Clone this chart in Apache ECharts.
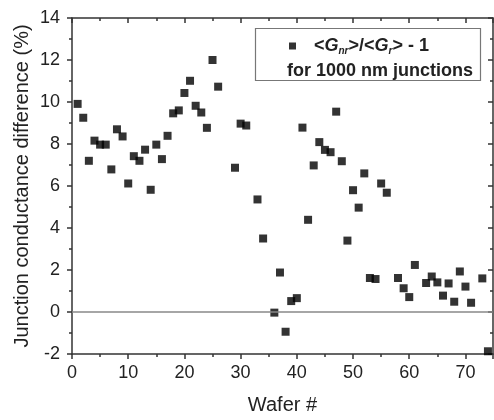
<!DOCTYPE html>
<html>
<head>
<meta charset="utf-8">
<script src="https://cdn.jsdelivr.net/npm/echarts@6/dist/echarts.min.js"></script>
<style>html,body{margin:0;padding:0;background:#fff}#c{width:494px;height:420px}</style>
</head>
<body>
<div id="c"></div>
<script>
const wafers = [1,2,3,4,5,6,7,8,9,10,11,12,13,14,15,16,17,18,19,20,21,22,23,24,25,26,29,30,31,33,34,36,37,38,39,40,41,42,43,44,45,46,47,48,49,50,51,52,53,54,55,56,58,59,60,61,63,64,65,66,67,68,69,70,71,73,74];
const diffs = [9.91,9.25,7.2,8.16,7.97,7.97,6.79,8.7,8.36,6.12,7.42,7.2,7.73,5.82,7.97,7.28,8.39,9.46,9.6,10.43,11.01,9.82,9.5,8.77,12.0,10.73,6.87,8.97,8.88,5.36,3.5,-0.03,1.88,-0.94,0.52,0.66,8.78,4.39,6.98,8.09,7.72,7.61,9.54,7.18,3.4,5.8,4.97,6.6,1.62,1.57,6.12,5.68,1.62,1.13,0.71,2.24,1.38,1.69,1.41,0.78,1.36,0.49,1.93,1.21,0.44,1.6,-1.87];
const xTicks = [0,10,20,30,40,50,60,70];
const yTicks = [-2,0,2,4,6,8,10,12,14];
const seriesName = '<Gnr>/<Gr> - 1';
const legendLine2 = 'for 1000 nm junctions';

const points = wafers.map((w, i) => [w, diffs[i]]);
const axisColor = '#333';
const font = 'Liberation Sans, Arial, sans-serif';
const xMax = 74.9;

const chart = echarts.init(document.getElementById('c'));
chart.setOption({
  animation: false,
  backgroundColor: '#fff',
  grid: { left: 72, top: 18, right: 1, bottom: 61, containLabel: false },
  xAxis: [{
    type: 'value', min: 0, max: xMax, interval: 10, position: 'bottom',
    name: 'Wafer #', nameLocation: 'middle', nameGap: 41, nameMoveOverlap: false,
    nameTextStyle: { fontSize: 20, color: '#222', fontFamily: font },
    axisLine: { show: true, onZero: false, lineStyle: { color: axisColor, width: 1.5 } },
    axisTick: { show: true, inside: false, length: 5, lineStyle: { color: axisColor, width: 1.5 } },
    minorTick: { show: true, splitNumber: 2, length: 3, lineStyle: { color: axisColor, width: 1.5 } },
    axisLabel: { fontSize: 18, color: '#222', fontFamily: font, margin: 10, showMaxLabel: false,
      formatter: v => xTicks.includes(v) ? String(v) : '' },
    splitLine: { show: false }
  }, {
    type: 'value', min: 0, max: xMax, interval: 10, position: 'top',
    axisLine: { show: true, onZero: false, lineStyle: { color: axisColor, width: 1.5 } },
    axisTick: { show: true, inside: true, length: 5, lineStyle: { color: axisColor, width: 1.5 } },
    minorTick: { show: true, splitNumber: 2, length: 3, lineStyle: { color: axisColor, width: 1.5 } },
    axisLabel: { show: false }, splitLine: { show: false }
  }],
  yAxis: [{
    type: 'value', min: -2, max: 14, interval: 2, position: 'left',
    name: 'Junction conductance difference (%)', nameLocation: 'middle', nameGap: 40, nameMoveOverlap: false,
    nameTextStyle: { fontSize: 20, color: '#222', fontFamily: font },
    axisLine: { show: true, onZero: false, lineStyle: { color: axisColor, width: 1.5 } },
    axisTick: { show: true, inside: false, length: 5, lineStyle: { color: axisColor, width: 1.5 } },
    minorTick: { show: true, splitNumber: 2, length: 3, lineStyle: { color: axisColor, width: 1.5 } },
    axisLabel: { fontSize: 18, color: '#222', fontFamily: font, margin: 12,
      formatter: v => yTicks.includes(v) ? String(v) : '' },
    splitLine: { show: false }
  }, {
    type: 'value', min: -2, max: 14, interval: 2, position: 'right',
    axisLine: { show: true, onZero: false, lineStyle: { color: axisColor, width: 1.5 } },
    axisTick: { show: true, inside: true, length: 5, lineStyle: { color: axisColor, width: 1.5 } },
    minorTick: { show: true, splitNumber: 2, length: 3, lineStyle: { color: axisColor, width: 1.5 } },
    axisLabel: { show: false }, splitLine: { show: false }
  }],
  legend: {
    show: true, left: 284, top: 32, icon: 'rect', itemWidth: 7, itemHeight: 7, itemGap: 0,
    data: [seriesName],
    formatter: () => '{t|<}{i|G}{s|nr}{t|>/<}{i|G}{s|r}{t|> - 1}',
    textStyle: {
      padding: [0, 0, 0, 13],
      rich: {
        t: { fontSize: 18, fontWeight: 'bold', color: '#222', fontFamily: font },
        i: { fontSize: 18, fontWeight: 'bold', fontStyle: 'italic', color: '#222', fontFamily: font },
        s: { fontSize: 10, fontWeight: 'bold', fontStyle: 'italic', color: '#222', fontFamily: font, padding: [10, 0, 0, 0] }
      }
    }
  },
  graphic: [
    { type: 'rect', shape: { x: 255.5, y: 28.5, width: 225, height: 52 }, style: { fill: 'none', stroke: '#777', lineWidth: 1.2 }, z: 10 },
    { type: 'text', x: 287, y: 71, style: { text: legendLine2, font: 'bold 18px ' + font, fill: '#222', textVerticalAlign: 'middle' }, z: 10 }
  ],
  series: [{
    name: seriesName, type: 'scatter', xAxisIndex: 0, yAxisIndex: 0,
    symbol: 'rect', symbolSize: 8, itemStyle: { color: '#000' },
    data: points, clip: true,
    markLine: {
      silent: true, symbol: 'none', label: { show: false },
      lineStyle: { color: '#888', width: 1.5, type: 'solid' },
      data: [{ yAxis: 0 }]
    }
  }]
});
</script>
</body>
</html>
